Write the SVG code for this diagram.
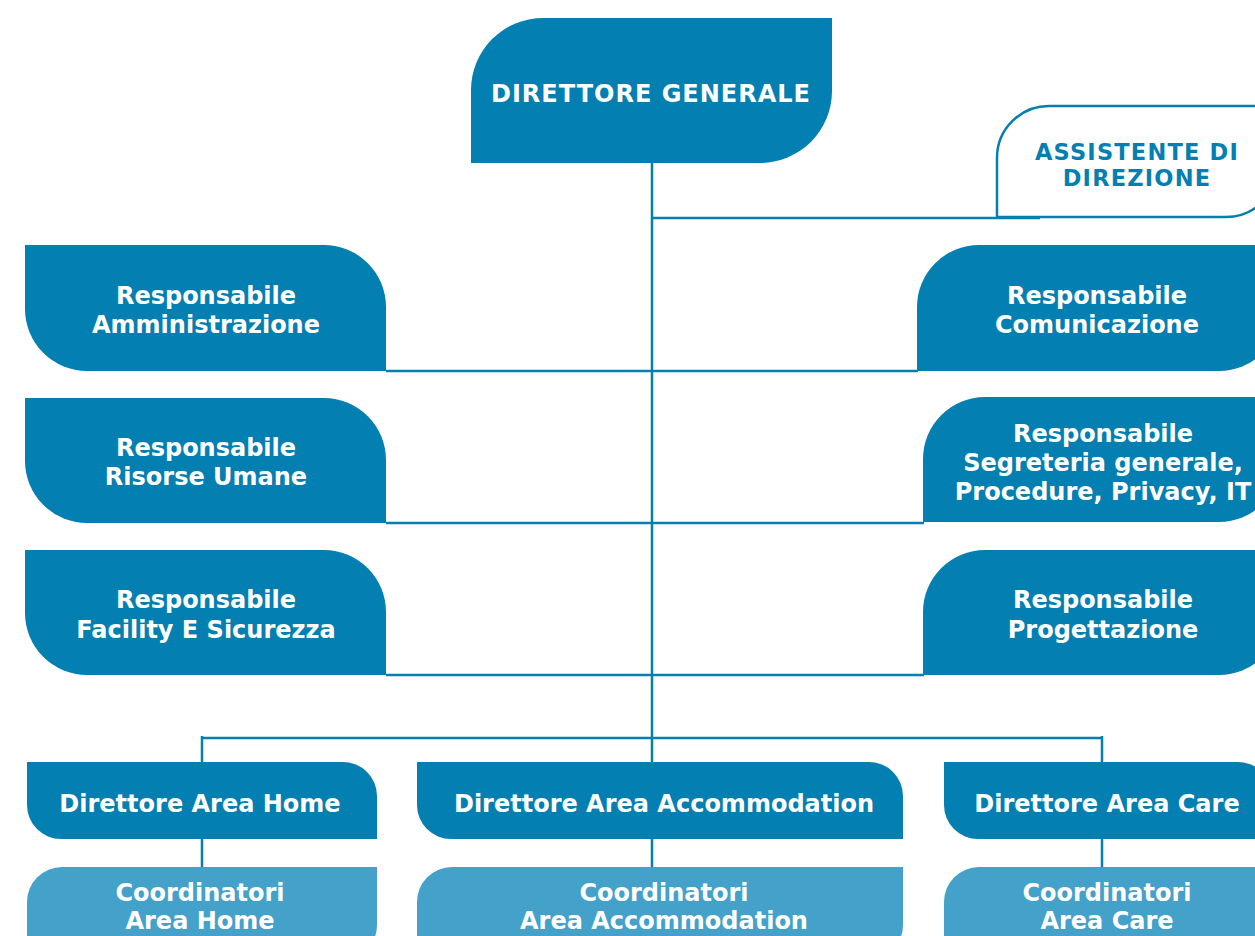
<svg xmlns="http://www.w3.org/2000/svg" width="1255" height="936" viewBox="0 0 1255 936">
<style>
.n{fill:#047fb1}
.c{fill:#43a1ca}
.o{fill:#fff;stroke:#047fb1;stroke-width:2.5}
.t{font-family:"DejaVu Sans",sans-serif;font-weight:bold;font-size:24px;fill:#fff;text-anchor:middle}
.a{fill:#047fb1;font-size:22.5px;letter-spacing:1.2px}
.k{fill:none;stroke:#047fb1;stroke-width:2.5}
</style>
<rect width="1255" height="936" fill="#fff"/>
<g id="connectors" class="k">
<path d="M652 163V762"/>
<path d="M652 218H1040"/>
<path d="M386 371H918M386 523H924M386 675H924"/>
<path d="M202 738H1102M202 736V762M1102 736V762"/>
<path d="M202 839V867M652 839V867M1102 839V867"/>
</g>
<g id="direttore-generale">
<path class="n" d="M543 18H832V91A72 72 0 0 1 760 163H471V90A72 72 0 0 1 543 18Z"/>
<text class="t" x="651" y="102" style="letter-spacing:1px">DIRETTORE GENERALE</text>
</g>
<g id="assistente">
<path class="o" d="M1049 106H1278V165A52 52 0 0 1 1226 217H997V158A52 52 0 0 1 1049 106Z"/>
<text class="t a" x="1137" y="160">ASSISTENTE DI</text>
<text class="t a" x="1137" y="186">DIREZIONE</text>
</g>
<g id="resp-amministrazione">
<path class="n" d="M25 245H324A62 62 0 0 1 386 307V371H87A62 62 0 0 1 25 309Z"/>
<text class="t" x="206" y="304">Responsabile</text>
<text class="t" x="206" y="333">Amministrazione</text>
</g>
<g id="resp-risorse-umane">
<path class="n" d="M25 398H324A62 62 0 0 1 386 460V523H87A62 62 0 0 1 25 461Z"/>
<text class="t" x="206" y="456">Responsabile</text>
<text class="t" x="206" y="485">Risorse Umane</text>
</g>
<g id="resp-facility">
<path class="n" d="M25 550H324A62 62 0 0 1 386 612V675H87A62 62 0 0 1 25 613Z"/>
<text class="t" x="206" y="608">Responsabile</text>
<text class="t" x="206" y="638">Facility E Sicurezza</text>
</g>
<g id="resp-comunicazione">
<path class="n" d="M979 245H1281V309A62 62 0 0 1 1219 371H917V307A62 62 0 0 1 979 245Z"/>
<text class="t" x="1097" y="304">Responsabile</text>
<text class="t" x="1097" y="333">Comunicazione</text>
</g>
<g id="resp-segreteria">
<path class="n" d="M985 397H1281V460A62 62 0 0 1 1219 522H923V459A62 62 0 0 1 985 397Z"/>
<text class="t" x="1103" y="442">Responsabile</text>
<text class="t" x="1103" y="471">Segreteria generale,</text>
<text class="t" x="1103" y="500">Procedure, Privacy, IT</text>
</g>
<g id="resp-progettazione">
<path class="n" d="M985 550H1281V613A62 62 0 0 1 1219 675H923V612A62 62 0 0 1 985 550Z"/>
<text class="t" x="1103" y="608">Responsabile</text>
<text class="t" x="1103" y="638">Progettazione</text>
</g>
<g id="dir-home">
<path class="n" d="M27 762H343A34 34 0 0 1 377 796V839H61A34 34 0 0 1 27 805Z"/>
<text class="t" x="200" y="812">Direttore Area Home</text>
</g>
<g id="dir-accommodation">
<path class="n" d="M417 762H869A34 34 0 0 1 903 796V839H451A34 34 0 0 1 417 805Z"/>
<text class="t" x="664" y="812">Direttore Area Accommodation</text>
</g>
<g id="dir-care">
<path class="n" d="M944 762H1238A34 34 0 0 1 1272 796V839H978A34 34 0 0 1 944 805Z"/>
<text class="t" x="1107" y="812">Direttore Area Care</text>
</g>
<g id="coord-home">
<path class="c" d="M62 867H377V925A35 35 0 0 1 342 960H27V902A35 35 0 0 1 62 867Z"/>
<text class="t" x="200" y="901">Coordinatori</text>
<text class="t" x="200" y="929">Area Home</text>
</g>
<g id="coord-accommodation">
<path class="c" d="M452 867H903V925A35 35 0 0 1 868 960H417V902A35 35 0 0 1 452 867Z"/>
<text class="t" x="664" y="901">Coordinatori</text>
<text class="t" x="664" y="929">Area Accommodation</text>
</g>
<g id="coord-care">
<path class="c" d="M979 867H1272V925A35 35 0 0 1 1237 960H944V902A35 35 0 0 1 979 867Z"/>
<text class="t" x="1107" y="901">Coordinatori</text>
<text class="t" x="1107" y="929">Area Care</text>
</g>
</svg>
